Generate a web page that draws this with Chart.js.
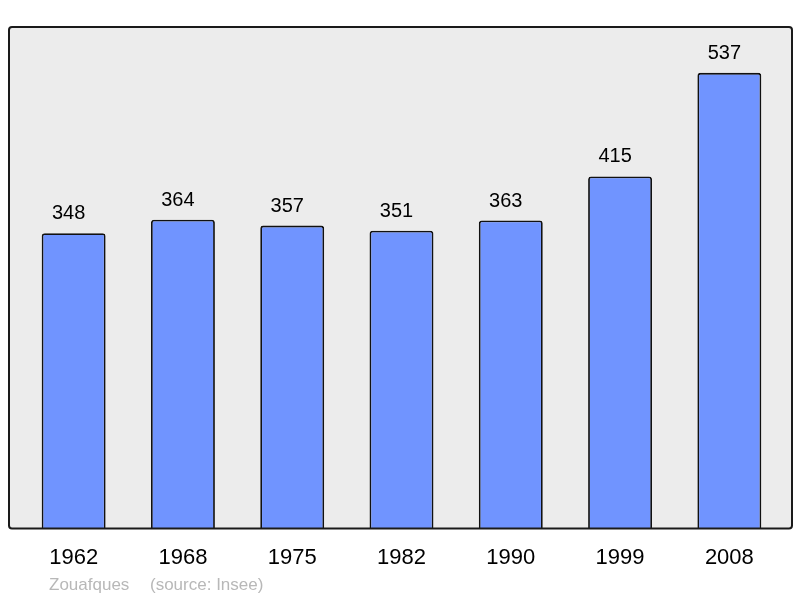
<!DOCTYPE html>
<html>
<head>
<meta charset="utf-8">
<script src="https://cdn.jsdelivr.net/npm/chart.js@4/dist/chart.umd.min.js"></script>
<style>
  html, body { margin: 0; padding: 0; background: #ffffff; }
  #wrap { width: 800px; height: 598px; position: relative; }
</style>
</head>
<body>
<div id="wrap"><canvas id="c" width="800" height="598"></canvas></div>
<script>
const years = ["1962", "1968", "1975", "1982", "1990", "1999", "2008"];
const population = [348, 364, 357, 351, 363, 415, 537];
const townName = "Zouafques";
const sourceText = "(source: Insee)";

const framePlugin = {
  id: 'frame',
  beforeDatasetsDraw(chart) {
    const a = chart.chartArea, ctx = chart.ctx;
    ctx.save();
    ctx.beginPath();
    ctx.roundRect(a.left - 10, a.top, (a.right + 8) - (a.left - 10), a.bottom - a.top, 3);
    ctx.fillStyle = '#ececec';
    ctx.fill();
    ctx.restore();
  },
  afterDatasetsDraw(chart) {
    const a = chart.chartArea, ctx = chart.ctx;
    ctx.save();
    ctx.beginPath();
    ctx.roundRect(a.left - 10, a.top, (a.right + 8) - (a.left - 10), a.bottom - a.top, 3);
    ctx.lineWidth = 2;
    ctx.strokeStyle = '#1a1a1a';
    ctx.stroke();
    // value labels
    const meta = chart.getDatasetMeta(0);
    ctx.font = '20px "Liberation Sans", Arial, sans-serif';
    ctx.fillStyle = '#000';
    ctx.textAlign = 'center';
    ctx.textBaseline = 'alphabetic';
    meta.data.forEach((bar, i) => {
      ctx.fillText(String(chart.data.datasets[0].data[i]), bar.x - 5, bar.y - 14);
    });
    // footer
    ctx.font = '17px "Liberation Sans", Arial, sans-serif';
    ctx.fillStyle = '#b8b8b8';
    ctx.textAlign = 'left';
    ctx.fillText(townName, 49, 590);
    ctx.fillText(sourceText, 150, 590);
    ctx.restore();
  }
};

new Chart(document.getElementById('c'), {
  type: 'bar',
  data: {
    labels: years,
    datasets: [{
      data: population,
      backgroundColor: '#7094ff',
      borderColor: '#111111',
      borderWidth: 1.8,
      borderSkipped: 'bottom',
      borderRadius: 3,
      barPercentage: 0.585,
      categoryPercentage: 1.0
    }]
  },
  options: {
    responsive: false,
    animation: false,
    devicePixelRatio: 1,
    layout: { padding: { left: 19, right: 16, top: 27, bottom: 11 } },
    plugins: { legend: { display: false }, tooltip: { enabled: false }, title: { display: false } },
    scales: {
      x: {
        grid: { display: false, drawTicks: false },
        border: { display: false },
        ticks: {
          color: '#000',
          padding: 16,
          font: { family: '"Liberation Sans", Arial, sans-serif', size: 22 }
        }
      },
      y: {
        display: false,
        min: 0,
        max: 591
      }
    }
  },
  plugins: [framePlugin]
});
</script>
</body>
</html>
